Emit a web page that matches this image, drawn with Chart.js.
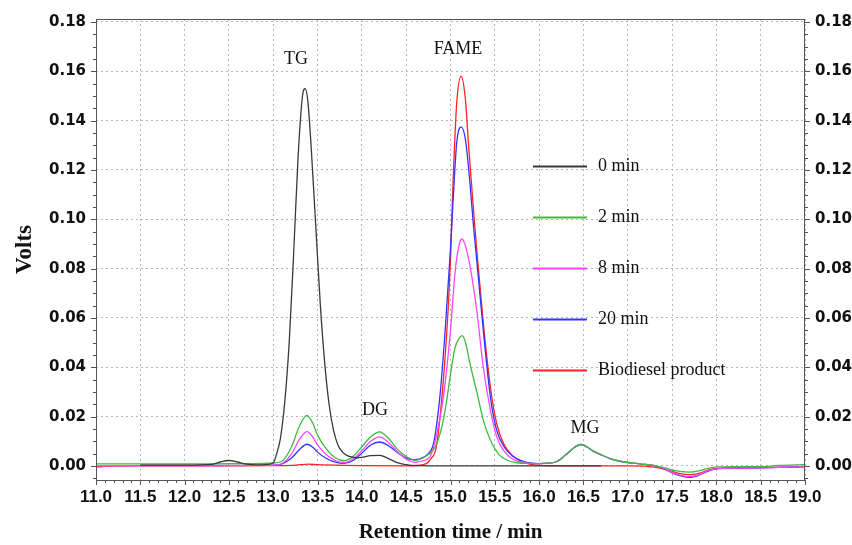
<!DOCTYPE html>
<html><head><meta charset="utf-8">
<script src="https://cdn.jsdelivr.net/npm/chart.js@4/dist/chart.umd.min.js"></script>
<style>html,body{margin:0;padding:0;background:#fff;}#wrap{width:852px;height:545px;position:relative;}</style>
</head><body><div id="wrap"><canvas id="c" width="852" height="545"></canvas></div>
<script>
// ---- data ----
const seriesNames = ['0 min', '2 min', '8 min', '20 min', 'Biodiesel product'];
const seriesColors = ['#3a3a3a', '#3dbb3d', '#ff44ff', '#3333ff', '#ff2222'];

const t0 = [11.5, 12.0, 12.3, 12.4, 12.5, 12.6, 12.7, 12.8, 12.9, 13.0, 13.03, 13.08, 13.13, 13.18, 13.23, 13.28, 13.33, 13.36, 13.39, 13.43, 13.48, 13.53, 13.58, 13.63, 13.68, 13.73, 13.78, 13.83, 13.9, 13.95, 14.0, 14.1, 14.2, 14.3, 14.4, 14.5, 14.6, 15.0, 15.5, 16.0, 16.7];
const v0 = [0.0003, 0.0003, 0.0006, 0.0016, 0.0022, 0.0016, 0.0007, 0.0004, 0.0005, 0.0012, 0.004, 0.011, 0.026, 0.05, 0.086, 0.125, 0.150, 0.153, 0.148, 0.128, 0.097, 0.066, 0.042, 0.025, 0.0145, 0.0085, 0.0057, 0.0043, 0.0035, 0.0033, 0.0035, 0.0042, 0.0043, 0.003, 0.0013, 0.0005, 0.0001, 0.0, 0.0, 0.0, 0.0];

const t2 = [11.0, 11.5, 12.0, 12.5, 12.9, 13.0, 13.1, 13.2, 13.3, 13.38, 13.45, 13.5, 13.6, 13.7, 13.8, 13.9, 14.0, 14.1, 14.2, 14.3, 14.4, 14.5, 14.6, 14.7, 14.8, 14.85, 14.9, 14.95, 15.0, 15.05, 15.1, 15.13, 15.17, 15.22, 15.3, 15.37, 15.45, 15.55, 15.65, 15.75, 15.9, 16.0, 16.1, 16.2, 16.3, 16.4, 16.47, 16.55, 16.6, 16.7, 16.8, 16.9, 17.0, 17.1, 17.2, 17.3, 17.4, 17.5, 17.6, 17.7, 17.8, 17.9, 18.0, 18.2, 18.5, 18.7, 19.0];
const v2 = [0.0008, 0.0008, 0.0008, 0.0009, 0.001, 0.0012, 0.002, 0.0073, 0.0165, 0.0205, 0.017, 0.0125, 0.0068, 0.0033, 0.0021, 0.0038, 0.0078, 0.0118, 0.0138, 0.0112, 0.0068, 0.0038, 0.0023, 0.0035, 0.0062, 0.0095, 0.0155, 0.025, 0.0372, 0.0478, 0.0518, 0.0528, 0.050, 0.0415, 0.0295, 0.0186, 0.0105, 0.0045, 0.0022, 0.0013, 0.001, 0.0009, 0.0011, 0.0018, 0.0045, 0.0076, 0.0087, 0.0075, 0.0062, 0.0045, 0.003, 0.002, 0.0014, 0.001, 0.0006, 0.0001, -0.0006, -0.0016, -0.0023, -0.0025, -0.002, -0.001, -0.0004, -0.0003, -0.0003, 0.0002, 0.0005];

const t8 = [11.0, 11.5, 12.0, 12.5, 12.9, 13.0, 13.1, 13.2, 13.3, 13.38, 13.45, 13.5, 13.6, 13.7, 13.8, 13.9, 14.0, 14.1, 14.2, 14.3, 14.4, 14.5, 14.6, 14.7, 14.77, 14.84, 14.92, 15.0, 15.05, 15.1, 15.13, 15.17, 15.22, 15.3, 15.37, 15.45, 15.52, 15.6, 15.7, 15.8, 15.9, 16.0, 16.1, 16.2, 16.3, 16.4, 16.47, 16.55, 16.6, 16.7, 16.8, 16.9, 17.0, 17.1, 17.2, 17.3, 17.4, 17.5, 17.6, 17.7, 17.8, 17.9, 18.0, 18.2, 18.5, 18.7, 19.0];
const v8 = [0.0, 0.0, 0.0, 0.0001, 0.0002, 0.0003, 0.001, 0.0045, 0.011, 0.0139, 0.0115, 0.0085, 0.0045, 0.0022, 0.0013, 0.0028, 0.0062, 0.0100, 0.0118, 0.0095, 0.0058, 0.0028, 0.0015, 0.0022, 0.0038, 0.012, 0.028, 0.055, 0.078, 0.090, 0.092, 0.089, 0.081, 0.062, 0.040, 0.0227, 0.012, 0.0062, 0.0028, 0.0015, 0.001, 0.0009, 0.0011, 0.0018, 0.0045, 0.0076, 0.0087, 0.0075, 0.0062, 0.0045, 0.003, 0.002, 0.0014, 0.001, 0.0006, 0.0001, -0.0009, -0.0026, -0.0038, -0.0043, -0.0036, -0.002, -0.0012, -0.0009, -0.0008, -0.0006, -0.0003];

const t20 = [11.5, 12.0, 12.5, 12.9, 13.0, 13.1, 13.2, 13.3, 13.38, 13.45, 13.5, 13.6, 13.7, 13.8, 13.9, 14.0, 14.1, 14.2, 14.3, 14.4, 14.5, 14.6, 14.7, 14.75, 14.81, 14.88, 14.94, 15.0, 15.03, 15.07, 15.12, 15.17, 15.22, 15.26, 15.3, 15.37, 15.45, 15.52, 15.6, 15.7, 15.8, 15.9, 16.0, 16.1, 16.2, 16.3, 16.4, 16.47, 16.55, 16.6, 16.7, 16.8, 16.9, 17.0, 17.1, 17.2, 17.3, 17.4, 17.5, 17.6, 17.7, 17.8, 17.9, 18.0, 18.2, 18.5, 18.7, 19.0];
const v20 = [0.0002, 0.0002, 0.0002, 0.0002, 0.0003, 0.0008, 0.003, 0.0068, 0.0088, 0.0075, 0.0056, 0.003, 0.0015, 0.001, 0.0022, 0.0052, 0.0085, 0.0097, 0.0082, 0.0055, 0.0032, 0.0025, 0.0036, 0.005, 0.0093, 0.028, 0.055, 0.088, 0.108, 0.131, 0.1375, 0.132, 0.1145, 0.097, 0.082, 0.055, 0.028, 0.0146, 0.008, 0.004, 0.0022, 0.0012, 0.0009, 0.0011, 0.0018, 0.0045, 0.0076, 0.0087, 0.0075, 0.0062, 0.0045, 0.003, 0.002, 0.0014, 0.001, 0.0006, 0.0001, -0.001, -0.0028, -0.004, -0.0046, -0.0038, -0.0022, -0.0012, -0.0009, -0.0008, -0.0006, -0.0002];

const tBio = [11.0, 11.1, 11.5, 12.0, 12.5, 13.0, 13.2, 13.3, 13.4, 13.5, 13.8, 14.0, 14.5, 14.7, 14.78, 14.84, 14.92, 14.98, 15.0, 15.03, 15.07, 15.12, 15.17, 15.2, 15.24, 15.27, 15.3, 15.37, 15.45, 15.52, 15.6, 15.7, 15.8, 15.93, 16.0, 16.5, 17.0, 17.3, 17.5, 17.6, 17.7, 17.8, 17.9, 18.0, 18.3, 18.6, 19.0];
const vBio = [-0.0004, -0.0002, 0.0, 0.0, 0.0, 0.0001, 0.0002, 0.0005, 0.0007, 0.0005, 0.0002, 0.0001, 0.0, 0.0006, 0.003, 0.0078, 0.035, 0.068, 0.084, 0.116, 0.147, 0.158, 0.148, 0.132, 0.113, 0.099, 0.086, 0.058, 0.032, 0.0174, 0.009, 0.0042, 0.0017, 0.0005, 0.0002, 0.0, 0.0, -0.0005, -0.0022, -0.0032, -0.0035, -0.003, -0.0018, -0.001, -0.0008, -0.0006, -0.0004];

const xTickValues = [11.0, 11.5, 12.0, 12.5, 13.0, 13.5, 14.0, 14.5, 15.0, 15.5, 16.0, 16.5, 17.0, 17.5, 18.0, 18.5, 19.0];
const yTickValues = [0.00, 0.02, 0.04, 0.06, 0.08, 0.10, 0.12, 0.14, 0.16, 0.18];

const peakLabels = ['TG', 'DG', 'FAME', 'MG'];
const peakLabelX = [13.257, 14.148, 15.085, 16.518];
const peakLabelY = [0.165, 0.0227, 0.169, 0.0154];

const xTitle = 'Retention time / min';
const yTitle = 'Volts';

// ---- chart ----
const seriesT = [t0, t2, t8, t20, tBio];
const seriesV = [v0, v2, v8, v20, vBio];

const datasets = seriesNames.map((name, i) => ({
  label: name,
  data: seriesT[i].map((t, j) => ({x: t, y: seriesV[i][j]})),
  borderColor: seriesColors[i],
  backgroundColor: seriesColors[i],
  borderWidth: 1.3,
  pointRadius: 0,
  fill: false,
  cubicInterpolationMode: 'monotone'
}));

const tickFontY = {family: "'DejaVu Sans', sans-serif", weight: 'bold', size: 15};
const tickFontX = {family: "'Liberation Sans', Arial, sans-serif", weight: 'bold', size: 17};
const serif = "'Liberation Serif', 'Times New Roman', serif";

const decor = {
  id: 'decor',
  afterDatasetsDraw(chart) {
    const ctx = chart.ctx, ca = chart.chartArea;
    const xs = chart.scales.x, ys = chart.scales.y;
    ctx.save();
    // frame
    ctx.strokeStyle = '#555';
    ctx.lineWidth = 1;
    ctx.strokeRect(Math.round(ca.left) + 0.5, Math.round(ca.top) + 0.5, Math.round(ca.right - ca.left) - 1, Math.round(ca.bottom - ca.top));
    // ticks
    ctx.beginPath();
    for (let i = -1; i <= 36; i++) {
      const v = i * 0.005;
      const py = Math.round(ys.getPixelForValue(v)) + 0.5;
      if (py < ca.top || py > ca.bottom) continue;
      const len = (i % 4 === 0) ? 5 : 3;
      ctx.moveTo(ca.left, py); ctx.lineTo(ca.left - len, py);
      ctx.moveTo(ca.right, py); ctx.lineTo(ca.right + len, py);
    }
    for (let i = 0; i <= 80; i++) {
      const v = 11 + i * 0.1;
      const px = Math.round(xs.getPixelForValue(v)) + 0.5;
      const len = (i % 5 === 0) ? 5 : 3;
      ctx.moveTo(px, ca.bottom); ctx.lineTo(px, ca.bottom + len);
    }
    ctx.stroke();
    // peak labels
    ctx.fillStyle = '#111';
    ctx.font = '18px ' + serif;
    ctx.textAlign = 'center';
    ctx.textBaseline = 'middle';
    peakLabels.forEach((lab, i) => {
      ctx.fillText(lab, xs.getPixelForValue(peakLabelX[i]), ys.getPixelForValue(peakLabelY[i]));
    });
    // legend
    const w = ca.right - ca.left, h = ca.bottom - ca.top;
    const lx0 = ca.left + w * 0.6163, lx1 = ca.left + w * 0.6925, tx = ca.left + w * 0.7080;
    const ly0 = ca.top + h * 0.318, dy = h * 0.1108;
    ctx.textAlign = 'left';
    chart.data.datasets.forEach((ds, i) => {
      const y = Math.round(ly0 + i * dy) + 0.5;
      ctx.strokeStyle = ds.borderColor;
      ctx.lineWidth = 2;
      ctx.beginPath(); ctx.moveTo(lx0, y); ctx.lineTo(lx1, y); ctx.stroke();
      ctx.fillStyle = '#111';
      ctx.fillText(ds.label, tx, y);
    });
    ctx.restore();
  }
};

new Chart(document.getElementById('c'), {
  type: 'line',
  data: {datasets},
  options: {
    responsive: false,
    devicePixelRatio: 1,
    animation: false,
    events: [],
    layout: {padding: {left: 0, right: 0, top: 18, bottom: 0}},
    plugins: {legend: {display: false}, tooltip: {enabled: false}},
    scales: {
      x: {
        type: 'linear', position: 'bottom', min: 11, max: 19,
        afterBuildTicks: s => { s.ticks = xTickValues.map(v => ({value: v})); },
        afterFit: s => { s.height = 65; },
        ticks: {callback: v => Number(v).toFixed(1), font: tickFontX, color: '#111', padding: 7, maxRotation: 0, autoSkip: false},
        grid: {color: '#b8b8b8', lineWidth: 1, drawTicks: false},
        border: {display: false, dash: [2, 3]},
        title: {display: true, text: xTitle, font: {family: serif, weight: 'bold', size: 21}, color: '#111', padding: {top: 0, bottom: 0}}
      },
      y: {
        type: 'linear', position: 'left', min: -0.0057, max: 0.1812,
        afterBuildTicks: s => { s.ticks = yTickValues.map(v => ({value: v})); },
        afterFit: s => { s.width = 96; },
        ticks: {callback: v => Number(v).toFixed(2), font: tickFontY, color: '#111', padding: 10},
        grid: {color: '#b8b8b8', lineWidth: 1, drawTicks: false},
        border: {display: false, dash: [2, 3]},
        title: {display: true, text: yTitle, font: {family: serif, weight: 'bold', size: 23}, color: '#111', padding: {top: 11, bottom: 0}}
      },
      y2: {
        type: 'linear', position: 'right', min: -0.0057, max: 0.1812,
        afterBuildTicks: s => { s.ticks = yTickValues.map(v => ({value: v})); },
        afterFit: s => { s.width = 47; },
        ticks: {callback: v => Number(v).toFixed(2), font: tickFontY, color: '#111', padding: 10},
        grid: {display: false, drawTicks: false},
        border: {display: false}
      }
    }
  },
  plugins: [decor]
});
</script></body></html>
